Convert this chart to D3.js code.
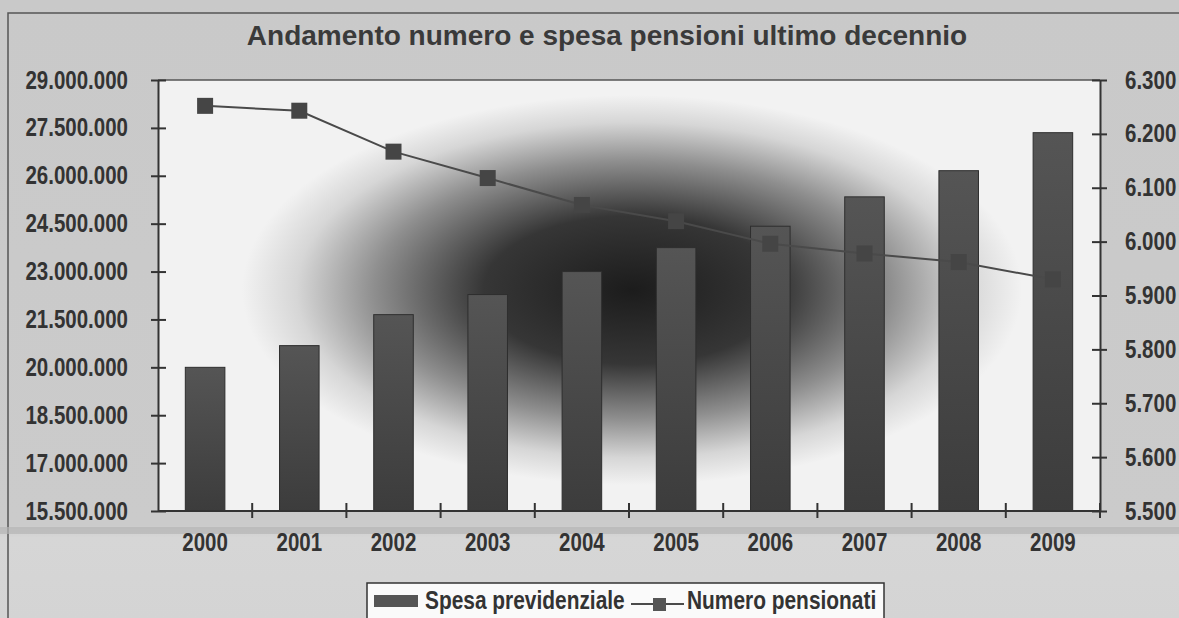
<!DOCTYPE html>
<html>
<head>
<meta charset="utf-8">
<script src="https://cdn.jsdelivr.net/npm/d3@7"></script>
<style>
html,body{margin:0;padding:0;background:#cdcdcd;}
svg{display:block;}
</style>
</head>
<body>
<svg id="chart" width="1179" height="618"></svg>
<script>
const years = ["2000","2001","2002","2003","2004","2005","2006","2007","2008","2009"];
const spesaPrevidenziale = [20000000, 20680000, 21650000, 22280000, 23000000, 23750000, 24420000, 25340000, 26160000, 27350000];
const numeroPensionati = [6252, 6243, 6167, 6118, 6068, 6038, 5996, 5978, 5962, 5930];
const leftTicks = [15500000, 17000000, 18500000, 20000000, 21500000, 23000000, 24500000, 26000000, 27500000, 29000000];
const rightTicks = [5500, 5600, 5700, 5800, 5900, 6000, 6100, 6200, 6300];
const titleText = "Andamento numero e spesa pensioni ultimo decennio";
const seriesNames = ["Spesa previdenziale", "Numero pensionati"];

const W = 1179, H = 618;
const m = {left:158, right:1100, top:80, bottom:511};
const svg = d3.select("#chart");
const defs = svg.append("defs");

const bg = defs.append("linearGradient").attr("id","bg").attr("x1",0).attr("y1",0).attr("x2",0).attr("y2",1);
bg.append("stop").attr("offset","0").attr("stop-color","#c9c9c9");
bg.append("stop").attr("offset","0.85").attr("stop-color","#cbcbcb");
bg.append("stop").attr("offset","0.87").attr("stop-color","#d6d6d6");
bg.append("stop").attr("offset","1").attr("stop-color","#d4d4d4");

const rg = defs.append("radialGradient").attr("id","plotbg")
  .attr("gradientUnits","userSpaceOnUse")
  .attr("cx",632).attr("cy",290).attr("r",390)
  .attr("gradientTransform","translate(632,290) scale(1,0.5) translate(-632,-290)");
rg.append("stop").attr("offset","0").attr("stop-color","#1c1c1c");
rg.append("stop").attr("offset","0.38").attr("stop-color","#363636");
rg.append("stop").attr("offset","0.66").attr("stop-color","#8e8e8e");
rg.append("stop").attr("offset","0.86").attr("stop-color","#d6d6d6");
rg.append("stop").attr("offset","1").attr("stop-color","#f2f2f2");

const barG = defs.append("linearGradient").attr("id","barg").attr("x1",0).attr("y1",0).attr("x2",0).attr("y2",1);
barG.append("stop").attr("offset","0").attr("stop-color","#555");
barG.append("stop").attr("offset","1").attr("stop-color","#3c3c3c");

svg.append("rect").attr("x",0).attr("y",0).attr("width",W).attr("height",H).attr("fill","url(#bg)");
svg.append("rect").attr("x",8).attr("y",13).attr("width",W).attr("height",H)
  .attr("fill","none").attr("stroke","#555").attr("stroke-width",1.5);
svg.append("rect").attr("x",0).attr("y",527).attr("width",W).attr("height",7).attr("fill","#b5b5b5").attr("opacity",0.7);

svg.append("rect").attr("x",m.left).attr("y",m.top).attr("width",m.right-m.left).attr("height",m.bottom-m.top)
  .attr("fill","url(#plotbg)");
svg.append("line").attr("x1",m.left).attr("x2",m.right).attr("y1",m.top).attr("y2",m.top)
  .attr("stroke","#555").attr("stroke-width",1.5);

const x = d3.scaleBand().domain(years).range([m.left, m.right]).paddingInner(0.58).paddingOuter(0.29);
const xb = d3.scaleBand().domain(years).range([m.left, m.right]);
const yL = d3.scaleLinear().domain([15500000, 29000000]).range([m.bottom, m.top]);
const yR = d3.scaleLinear().domain([5500, 6300]).range([m.bottom, m.top]);

const it = d3.formatLocale({decimal:",", thousands:".", grouping:[3], currency:["€",""]});
const fmt = it.format(",");

const font = "'Liberation Sans',Arial,sans-serif";
function narrow(sel){
  sel.each(function(){
    const t = d3.select(this);
    const xv = +(t.attr("x") || 0);
    t.attr("x",0).attr("transform",`translate(${xv},0) scale(0.82,1)`);
  });
}

svg.append("g").selectAll("rect").data(years).join("rect")
  .attr("x", d => x(d)).attr("width", x.bandwidth())
  .attr("y", (d,i) => yL(spesaPrevidenziale[i]))
  .attr("height", (d,i) => yL(15500000) - yL(spesaPrevidenziale[i]))
  .attr("fill","url(#barg)").attr("stroke","#2e2e2e").attr("stroke-width",1);

const axL = svg.append("g").attr("transform",`translate(${m.left},0)`)
  .call(d3.axisLeft(yL).tickValues(leftTicks).tickFormat(fmt).tickSizeInner(7).tickSizeOuter(0).tickPadding(23));
const axR = svg.append("g").attr("transform",`translate(${m.right},0)`)
  .call(d3.axisRight(yR).tickValues(rightTicks).tickFormat(fmt).tickSizeInner(7).tickSizeOuter(0).tickPadding(18));
const axB = svg.append("g").attr("transform",`translate(0,${m.bottom})`)
  .call(d3.axisBottom(xb).tickSize(0).tickPadding(22));
svg.append("g").selectAll("line").data(years).join("line")
  .attr("x1", (d,i) => m.left + xb.step()*(i+1)).attr("x2", (d,i) => m.left + xb.step()*(i+1))
  .attr("y1", m.bottom-8).attr("y2", m.bottom+7).attr("stroke","#333").attr("stroke-width",2);
axL.selectAll(".tick line").attr("x1",8);
axR.selectAll(".tick line").attr("x1",-8);

[axL, axR, axB].forEach(a => {
  a.select(".domain").attr("stroke","#333").attr("stroke-width",2);
  a.selectAll(".tick line").attr("stroke","#333").attr("stroke-width",2);
  a.selectAll("text").attr("font-family",font).attr("font-weight","bold")
    .attr("font-size","25px").attr("fill","#333").call(narrow);
});
axB.select(".domain").attr("d",`M${m.left},0H${m.right}`);

const line = d3.line().x((d,i) => xb(years[i]) + xb.bandwidth()/2).y(d => yR(d));
svg.append("path").datum(numeroPensionati).attr("d", line)
  .attr("fill","none").attr("stroke","#4a4a4a").attr("stroke-width",2);
svg.append("g").selectAll("rect").data(numeroPensionati).join("rect")
  .attr("x",(d,i) => xb(years[i]) + xb.bandwidth()/2 - 8).attr("y", d => yR(d) - 8)
  .attr("width",16).attr("height",16).attr("fill","#454545");

svg.append("text").attr("x",607).attr("y",45).attr("text-anchor","middle")
  .attr("font-family",font).attr("font-weight","bold")
  .attr("font-size","28px").attr("fill","#3a3a3a").text(titleText);

const lg = svg.append("g");
lg.append("rect").attr("x",367).attr("y",583).attr("width",517).attr("height",50)
  .attr("fill","#fafafa").attr("stroke","#333").attr("stroke-width",1.5);
lg.append("rect").attr("x",374).attr("y",595).attr("width",44).attr("height",12).attr("fill","#555");
lg.append("text").attr("x",425).attr("y",609).text(seriesNames[0]);
lg.append("line").attr("x1",631).attr("x2",684).attr("y1",604).attr("y2",604).attr("stroke","#4a4a4a").attr("stroke-width",2);
lg.append("rect").attr("x",653).attr("y",598).attr("width",13).attr("height",13).attr("fill","#555");
lg.append("text").attr("x",687).attr("y",609).text(seriesNames[1]);
lg.selectAll("text").attr("font-family",font).attr("font-weight","bold").attr("font-size","25.5px").attr("fill","#333").call(narrow);
</script>
</body>
</html>
